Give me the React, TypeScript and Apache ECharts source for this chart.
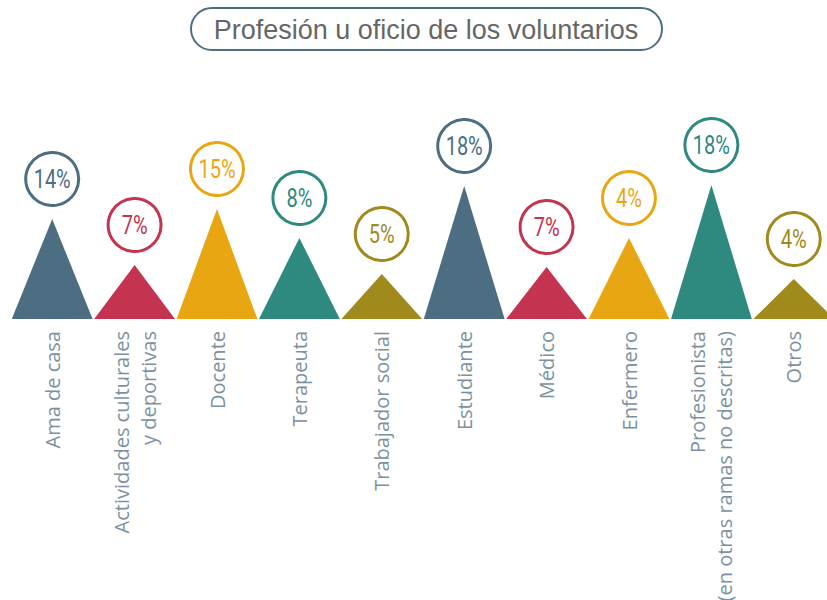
import React, { useEffect, useRef } from "react";
import * as echarts from "echarts";

const categories = [
  "Ama de casa",
  "Actividades culturales\ny deportivas",
  "Docente",
  "Terapeuta",
  "Trabajador social",
  "Estudiante",
  "Médico",
  "Enfermero",
  "Profesionista\n(en otras ramas no descritas)",
  "Otros",
];
// triangle heights as drawn (relative units)
const heights = [100, 54, 110, 81, 45, 133, 52, 81, 134, 40];
const percentLabels = ["14%", "7%", "15%", "8%", "5%", "18%", "7%", "4%", "18%", "4%"];
const palette = ["#4d6e82", "#c4334f", "#e8a712", "#2e8a7e", "#a08a1c"];

const titleText = "Profesión u oficio de los voluntarios";

export default function App() {
  const ref = useRef<HTMLDivElement>(null);
  useEffect(() => {
    if (!ref.current) return;
    const chart = echarts.init(ref.current, null, { renderer: "svg" });
    const colorOf = (i: number) => palette[i % palette.length];
    chart.setOption({
      animation: false,
      backgroundColor: "#ffffff",
      grid: {
        left: 11,
        width: 824,
        top: 19,
        height: 300,
        containLabel: false,
        outerBoundsMode: "none",
      },
      xAxis: {
        type: "category",
        data: categories,
        axisLine: { show: false },
        axisTick: { show: false },
        axisLabel: {
          interval: 0,
          rotate: 90,
          margin: 12,
          fontSize: 20,
          lineHeight: 27,
          fontFamily: "'Open Sans', sans-serif",
          color: "#7b91a1",
        },
      },
      yAxis: {
        type: "value",
        min: 0,
        max: 300,
        show: false,
        splitLine: { show: false },
      },
      graphic: [
        {
          type: "rect",
          shape: { x: 191, y: 8, width: 471, height: 42, r: 21 },
          style: { fill: "#ffffff", stroke: "#4d6e82", lineWidth: 2 },
        },
        {
          type: "text",
          x: 426,
          y: 30,
          style: {
            text: titleText,
            fill: "#666666",
            font: "27px 'Liberation Sans', Arial, sans-serif",
            align: "center",
            verticalAlign: "middle",
          },
        },
      ],
      series: [
        {
          type: "pictorialBar",
          symbol: "triangle",
          symbolSize: ["100%", "100%"],
          barWidth: "98%",
          data: heights.map((v, i) => ({ value: v, itemStyle: { color: colorOf(i) } })),
        },
        {
          type: "custom",
          z: 5,
          data: heights.map((v, i) => [i, v]),
          renderItem: (params: any, api: any) => {
            const i = params.dataIndex;
            const p = api.coord([api.value(0), api.value(1)]);
            const c = colorOf(i);
            const cy = p[1] - 40;
            return {
              type: "group",
              children: [
                {
                  type: "circle",
                  shape: { cx: p[0], cy, r: 26.5 },
                  style: { fill: "#ffffff", stroke: c, lineWidth: 3 },
                },
                {
                  type: "text",
                  x: p[0],
                  y: cy + 1,
                  scaleX: 0.8,
                  style: {
                    text: percentLabels[i],
                    fill: c,
                    font: "normal 25px Roboto, sans-serif",
                    align: "center",
                    verticalAlign: "middle",
                  },
                },
              ],
            };
          },
        },
      ],
    });
    return () => chart.dispose();
  }, []);
  return (
    <div
      ref={ref}
      style={{ position: "absolute", left: 0, top: 0, width: 827, height: 600 }}
    />
  );
}
